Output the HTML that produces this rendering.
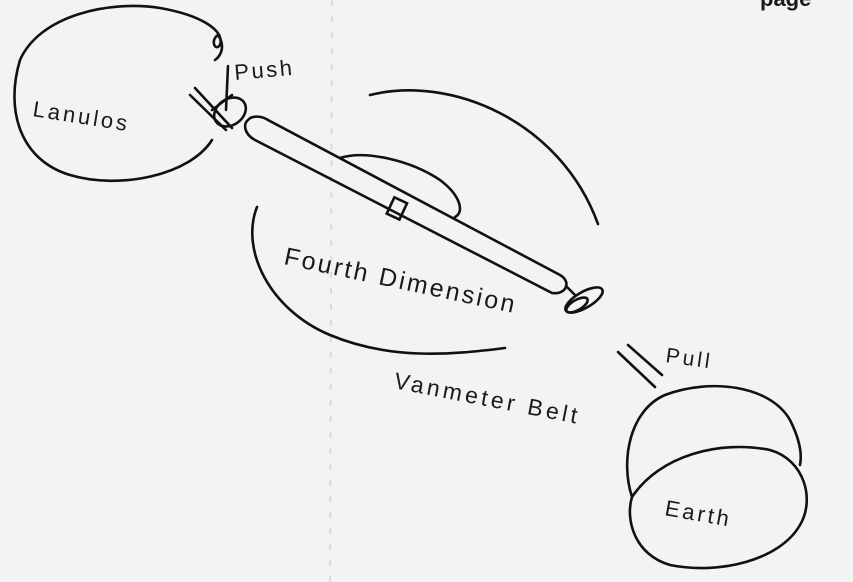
<!DOCTYPE html>
<html><head><meta charset="utf-8"><style>
html,body{margin:0;padding:0;background:#f3f2f4;}
svg{display:block}
text{font-family:"Liberation Sans",sans-serif;fill:#1a1a1a}
</style></head><body>
<svg width="853" height="582" viewBox="0 0 853 582" xmlns="http://www.w3.org/2000/svg">
<rect width="853" height="582" fill="#f3f2f4"/>
<line x1="332" y1="0" x2="330" y2="582" stroke="#ccc" stroke-width="2" stroke-dasharray="6 10" opacity="0.6"/>
<text x="760" y="6" font-family="Liberation Serif" font-weight="bold" font-size="22">page</text>
<g fill="none" stroke="#111" stroke-width="2.6" stroke-linecap="round">
<!-- Lanulos -->
<path d="M212,140 C190,175 120,190 70,175 C20,160 5,110 20,60 C40,15 110,0 160,8 C200,15 225,30 220,45 C215,52 210,40 218,35 C225,45 222,55 215,60"/>
<path d="M195,88 L232,128 M190,95 L226,130 M228,66 L226,110 M212,110 L232,95"/>
<ellipse cx="230" cy="112" rx="17" ry="13" transform="rotate(-35 230 112)"/>
<!-- body -->
<path d="M248,120 C252,115 262,116 268,120 L560,275 C572,282 566,295 552,293 L255,140 C244,134 243,124 248,120 Z"/>
<!-- hump -->
<path d="M340,158 C365,150 410,160 440,180 C460,195 465,212 455,217"/>
<rect x="390" y="199" width="14" height="18" transform="rotate(25 396 208)"/>
<!-- prop 2 -->
<path d="M566,286 L575,295"/>
<ellipse cx="584" cy="300" rx="21" ry="8" transform="rotate(-30 584 300)"/>
<ellipse cx="577" cy="305" rx="12" ry="5" transform="rotate(-30 577 305)"/>
<!-- arcs -->
<path d="M370,95 C450,75 560,120 598,224"/>
<path d="M257,207 C240,250 270,310 330,335 C390,360 450,355 505,348"/>
<!-- pull lines -->
<path d="M618,352 L655,387 M628,345 L662,375"/>
<!-- Earth -->
<path d="M632,497 C620,460 630,410 665,395 C710,378 770,385 790,420 C800,440 802,455 800,465"/>
<path d="M632,497 C660,455 720,440 770,450 C805,460 815,500 800,525 C780,560 720,575 670,565 C635,555 625,520 632,497 Z"/>
</g>
<text x="235" y="80" font-size="22" letter-spacing="2.5" transform="rotate(-5 235 80)">Push</text>
<text x="32" y="116" font-size="22" letter-spacing="3" transform="rotate(9 32 116)">Lanulos</text>
<text x="283" y="264" font-size="25" letter-spacing="2.5" transform="rotate(12 283 264)">Fourth Dimension</text>
<text x="665" y="362" font-size="21" letter-spacing="3" transform="rotate(8 665 362)">Pull</text>
<text x="393" y="388" font-size="23" letter-spacing="3.5" transform="rotate(11 393 388)">Vanmeter Belt</text>
<text x="664" y="515" font-size="22" letter-spacing="3" transform="rotate(10 664 515)">Earth</text>
</svg>
</body></html>
